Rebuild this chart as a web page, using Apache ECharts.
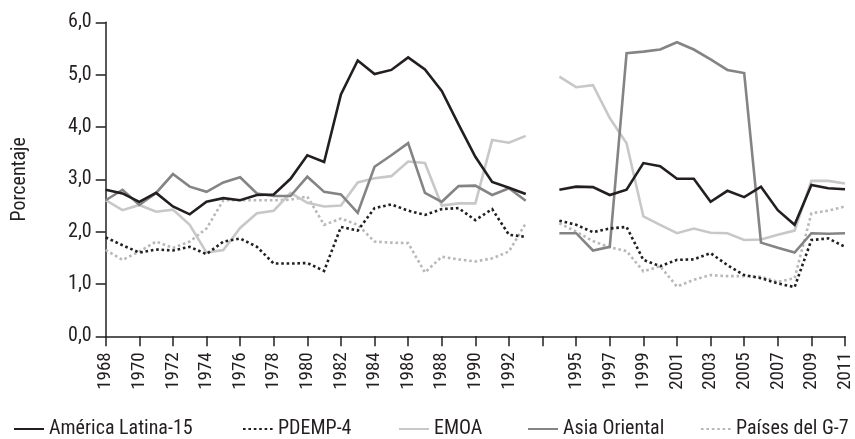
<!DOCTYPE html>
<html>
<head>
<meta charset="utf-8">
<script src="https://cdn.jsdelivr.net/npm/echarts@6/dist/echarts.min.js"></script>
<style>
html,body{margin:0;padding:0;background:#fff;}
#c{width:855px;height:439px;}
</style>
</head>
<body>
<div id="c"></div>
<script>
// Categories
const yearsA = ['1968','1969','1970','1971','1972','1973','1974','1975','1976','1977','1978','1979','1980','1981','1982','1983','1984','1985','1986','1987','1988','1989','1990','1991','1992','1993'];
const yearsB = ['1994','1995','1996','1997','1998','1999','2000','2001','2002','2003','2004','2005','2006','2007','2008','2009','2010','2011'];

// Series values (percent), first period 1968-1993, second 1994-2011
const americaLatinaA = [2.80,2.73,2.57,2.74,2.48,2.33,2.57,2.64,2.60,2.70,2.71,3.01,3.46,3.33,4.62,5.27,5.01,5.09,5.33,5.10,4.69,4.05,3.43,2.95,2.84,2.72];
const americaLatinaB = [2.80,2.86,2.85,2.70,2.80,3.31,3.25,3.01,3.01,2.57,2.78,2.66,2.86,2.41,2.13,2.89,2.83,2.81];

const pdempA = [1.89,1.74,1.60,1.66,1.64,1.71,1.57,1.81,1.87,1.71,1.39,1.39,1.40,1.25,2.09,2.02,2.45,2.52,2.40,2.32,2.43,2.45,2.22,2.43,1.94,1.90];
const pdempB = [2.21,2.13,1.99,2.06,2.09,1.46,1.34,1.46,1.47,1.59,1.36,1.17,1.11,1.01,0.94,1.84,1.87,1.71];

const emoaA = [2.60,2.41,2.51,2.38,2.42,2.13,1.60,1.65,2.07,2.35,2.40,2.74,2.55,2.48,2.50,2.94,3.02,3.06,3.34,3.31,2.50,2.54,2.54,3.75,3.70,3.83];
const emoaB = [4.96,4.76,4.80,4.17,3.69,2.29,2.13,1.97,2.06,1.98,1.97,1.84,1.85,1.94,2.02,2.97,2.97,2.92];

const asiaA = [2.60,2.80,2.51,2.74,3.10,2.86,2.76,2.94,3.04,2.73,2.68,2.68,3.05,2.76,2.71,2.36,3.24,3.46,3.69,2.74,2.57,2.87,2.88,2.70,2.83,2.59];
const asiaB = [1.97,1.97,1.64,1.71,5.41,5.44,5.48,5.62,5.48,5.29,5.09,5.03,1.79,1.69,1.60,1.97,1.96,1.97];

const g7A = [1.65,1.46,1.62,1.81,1.69,1.81,2.06,2.60,2.60,2.60,2.60,2.61,2.67,2.13,2.25,2.13,1.81,1.79,1.78,1.22,1.52,1.47,1.43,1.49,1.62,2.16];
const g7B = [2.16,2.00,1.82,1.70,1.63,1.24,1.34,0.95,1.08,1.17,1.15,1.15,1.14,1.04,1.11,2.35,2.40,2.48];

const seriesNames = ['América Latina-15','PDEMP-4','EMOA','Asia Oriental','Países del G-7'];
const yTicks = [0,1,2,3,4,5,6];

// Build the category axis with one empty slot between the two periods
const categories = yearsA.concat([''], yearsB);
const join = (a, b) => a.concat([null], b);

const FONT = "'Liberation Sans Narrow','Roboto Condensed','DejaVu Sans Condensed',sans-serif";
const INK = '#231f20';

const chart = echarts.init(document.getElementById('c'), null, {renderer:'canvas'});

function lineSeries(name, data, color, dotted, z){
  return {
    name: name,
    type: 'line',
    data: data,
    symbol: 'none',
    connectNulls: false,
    z: z,
    lineStyle: {
      color: color,
      width: 2.6,
      type: dotted ? [2.6, 2.8] : 'solid',
      cap: 'butt',
      join: 'miter'
    },
    itemStyle: {color: color},
    emphasis: {disabled: true}
  };
}

const legendLefts = [8, 237, 393, 522, 695];
const legends = seriesNames.map((n, i) => ({
  orient: 'horizontal',
  left: legendLefts[i],
  top: 414,
  itemWidth: 30,
  itemHeight: 12,
  itemGap: 0,
  selectedMode: false,
  data: [n],
  itemStyle: {opacity: 0},
  textStyle: {fontFamily: FONT, fontSize: 20, color: INK}
}));

chart.setOption({
  animation: false,
  backgroundColor: '#ffffff',
  textStyle: {fontFamily: FONT, color: INK},
  grid: {left: 105.7, right: 10, top: 22.3, bottom: 102.7, containLabel: false},
  legend: legends,
  xAxis: {
    type: 'category',
    data: categories,
    boundaryGap: false,
    axisLine: {show: true, lineStyle: {color: INK, width: 1.5}},
    axisTick: {show: true, interval: 1, length: 10, lineStyle: {color: INK, width: 1.5}},
    axisLabel: {interval: 1, rotate: 90, margin: 16, fontFamily: FONT, fontSize: 19, color: INK},
    splitLine: {show: false}
  },
  yAxis: {
    type: 'value',
    min: yTicks[0],
    max: yTicks[yTicks.length - 1],
    interval: 1,
    name: 'Porcentaje',
    nameLocation: 'middle',
    nameGap: 76,
    nameTextStyle: {fontFamily: FONT, fontSize: 20, color: INK},
    axisLine: {show: true, lineStyle: {color: INK, width: 1.5}},
    axisTick: {show: true, length: 10, lineStyle: {color: INK, width: 1.5}},
    axisLabel: {margin: 14, fontFamily: FONT, fontSize: 20, color: INK,
      formatter: v => v.toFixed(1).replace('.', ',')},
    splitLine: {show: false}
  },
  series: [
    lineSeries(seriesNames[0], join(americaLatinaA, americaLatinaB), '#231f20', false, 6),
    lineSeries(seriesNames[1], join(pdempA, pdempB), '#231f20', true, 5),
    lineSeries(seriesNames[2], join(emoaA, emoaB), '#c8c8c8', false, 3),
    lineSeries(seriesNames[3], join(asiaA, asiaB), '#848484', false, 4),
    lineSeries(seriesNames[4], join(g7A, g7B), '#b8b8b8', true, 2)
  ]
});
</script>
</body>
</html>
